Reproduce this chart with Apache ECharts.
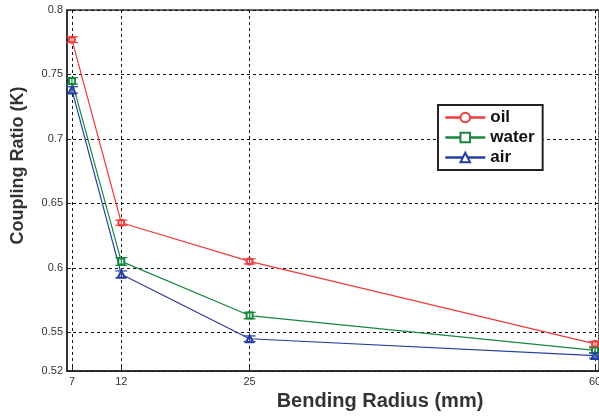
<!DOCTYPE html>
<html>
<head>
<meta charset="utf-8">
<script src="https://cdn.jsdelivr.net/npm/echarts@6/dist/echarts.min.js"></script>
<style>
    html, body { margin: 0; padding: 0; background: #fff; }
    #chart { width: 599px; height: 416px; }
</style>
</head>
<body>
<div id="chart"></div>
<script>
// bending radius (mm)
var radius = [7, 12, 25, 60];
var oilK = [0.777, 0.635, 0.605, 0.541];
var waterK = [0.745, 0.605, 0.563, 0.536];
var airK = [0.738, 0.595, 0.545, 0.532];
// error bar half height
var oilErr = [0.0022, 0.002, 0.002, 0.002];
var waterErr = [0.0025, 0.003, 0.0025, 0.002];
var airErr = [0.0025, 0.0026, 0.0022, 0.002];
var yTicks = [0.52, 0.55, 0.6, 0.65, 0.7, 0.75, 0.8];

var colors = ['#ee3a3a', '#17873f', '#233fa0'];

function pairs(ys) {
    var out = [];
    for (var i = 0; i < radius.length; i++) {
        out.push([radius[i], ys[i]]);
    }
    return out;
}

function errData(ys, errs) {
    var out = [];
    for (var i = 0; i < radius.length; i++) {
        out.push([radius[i], ys[i] - errs[i], ys[i] + errs[i]]);
    }
    return out;
}

//error bar drawn as custom shape
function errorBar(color) {
    return function (params, api) {
        var lo = api.coord([api.value(0), api.value(1)]);
        var hi = api.coord([api.value(0), api.value(2)]);
        var w = 6;
        var style = { stroke: color, lineWidth: 1.2 };
        return {
            type: 'group',
            children: [
                { type: 'line', shape: { x1: lo[0], y1: lo[1], x2: hi[0], y2: hi[1] }, style: style },
                { type: 'line', shape: { x1: lo[0] - w, y1: lo[1], x2: lo[0] + w, y2: lo[1] }, style: style },
                { type: 'line', shape: { x1: hi[0] - w, y1: hi[1], x2: hi[0] + w, y2: hi[1] }, style: style }
            ]
        };
    };
}

var myChart = echarts.init(document.getElementById('chart'));
var font = 'Liberation Sans, Arial, sans-serif';

var option = {
    animation: false,
    grid: {
        left: 67,
        right: 0,
        top: 10,
        bottom: 45,
        outerBoundsMode: 'none',
        show: true,
        borderColor: '#333',
        borderWidth: 1.5
    },
    legend: {
        data: ['oil', 'water', 'air'],
        orient: 'vertical',
        left: 438,
        top: 105,
        backgroundColor: '#fff',
        borderColor: '#222',
        borderWidth: 2,
        padding: [4, 8, 4, 6],
        itemGap: 3,
        itemWidth: 40,
        itemHeight: 12,
        lineStyle: { width: 2.5 },
        textStyle: { fontFamily: font, fontSize: 17, fontWeight: 'bold', color: '#111' }
    },
    xAxis: {
        type: 'value',
        min: 6.5,
        max: 60.4,
        name: 'Bending Radius (mm)',
        nameLocation: 'middle',
        nameGap: 20,
        nameTextStyle: { fontFamily: font, fontSize: 20, fontWeight: 'bold', color: '#333', padding: [0, 0, 0, 94] },
        axisLine: { lineStyle: { color: '#222', width: 1.5 } },
        axisTick: { inside: true, length: 4, customValues: radius, lineStyle: { color: '#222' } },
        axisLabel: { customValues: radius, fontFamily: font, fontSize: 11, color: '#333', margin: 5 },
        splitLine: { show: true, lineStyle: { color: '#111', type: [3, 3], width: 1 } }
    },
    yAxis: {
        type: 'value',
        min: 0.52,
        max: 0.8,
        name: 'Coupling Ratio (K)',
        nameLocation: 'middle',
        nameGap: 40,
        nameTextStyle: { fontFamily: font, fontSize: 18, fontWeight: 'bold', color: '#333', padding: [0, 0, 0, 50] },
        axisLine: { lineStyle: { color: '#222', width: 1.5 } },
        axisTick: { inside: true, length: 4, customValues: yTicks, lineStyle: { color: '#222' } },
        axisLabel: { customValues: yTicks, fontFamily: font, fontSize: 11, color: '#333', margin: 4 },
        splitLine: { show: true, lineStyle: { color: '#111', type: [3, 3], width: 1 } }
    },
    series: [
        {
            name: 'oil', type: 'line', data: pairs(oilK), color: colors[0],
            symbol: 'emptyCircle', symbolSize: 6, lineStyle: { width: 1.2 }, z: 3
        },
        {
            name: 'water', type: 'line', data: pairs(waterK), color: colors[1],
            symbol: 'emptyRect', symbolSize: 6, lineStyle: { width: 1.2 }, z: 3
        },
        {
            name: 'air', type: 'line', data: pairs(airK), color: colors[2],
            symbol: 'emptyTriangle', symbolSize: 7, lineStyle: { width: 1.2 }, z: 3
        },
        { type: 'custom', data: errData(oilK, oilErr), renderItem: errorBar(colors[0]), z: 4 },
        { type: 'custom', data: errData(waterK, waterErr), renderItem: errorBar(colors[1]), z: 4 },
        { type: 'custom', data: errData(airK, airErr), renderItem: errorBar(colors[2]), z: 4 }
    ]
};

myChart.setOption(option);
</script>
</body>
</html>
